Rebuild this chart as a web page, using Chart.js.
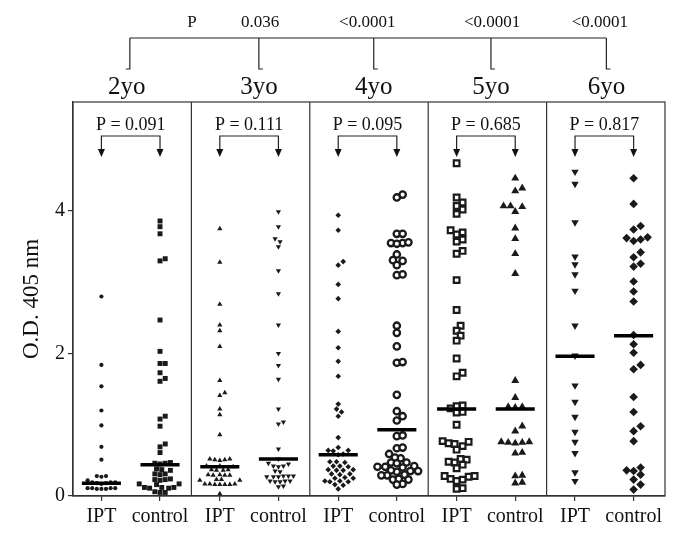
<!DOCTYPE html>
<html><head><meta charset="utf-8">
<script src="https://cdn.jsdelivr.net/npm/chart.js@4.4.0/dist/chart.umd.min.js"></script>
<style>html,body{margin:0;padding:0;background:#fff;}</style>
</head><body>
<canvas id="c" width="685" height="542"></canvas>
<script>
const groups = ['2yo','3yo','4yo','5yo','6yo'];
const arms = ['IPT','control'];
const groupP = ['P','0.036','<0.0001','<0.0001','<0.0001'];
const panelP = ['P = 0.091','P = 0.111','P = 0.095','P = 0.685','P = 0.817'];
const yTicks = [0,2,4];

const ipt2 = [2.80,1.84,1.54,1.20,0.99,0.69,0.51,0.28,0.27,0.28,0.22,0.19,0.19,0.18,0.18,0.19,0.17,0.11,0.10,0.11,0.10,0.11,0.10,0.11];
const control2 = [3.86,3.78,3.68,3.33,3.30,2.47,2.03,1.86,1.86,1.73,1.65,1.61,1.12,1.08,0.98,0.73,0.69,0.61,0.47,0.46,0.45,0.46,0.38,0.37,0.36,0.31,0.30,0.31,0.23,0.22,0.24,0.23,0.17,0.16,0.17,0.12,0.11,0.12,0.11,0.12,0.05,0.05,0.06];
const ipt3 = [3.75,3.28,2.69,2.40,2.32,2.10,1.62,1.45,1.41,1.22,1.14,0.86,0.51,0.52,0.50,0.52,0.51,0.42,0.41,0.42,0.36,0.37,0.36,0.37,0.29,0.30,0.29,0.30,0.29,0.22,0.23,0.22,0.23,0.16,0.17,0.16,0.17,0.16,0.17,0.16,0.03];
const control3 = [3.99,3.78,3.61,3.57,3.50,3.16,2.84,2.40,2.00,1.83,1.64,1.22,1.04,1.01,0.66,0.52,0.45,0.46,0.42,0.41,0.42,0.35,0.34,0.28,0.27,0.28,0.27,0.28,0.27,0.21,0.20,0.21,0.20,0.21,0.14,0.13];
const ipt4 = [3.94,3.73,3.29,3.24,2.97,2.77,2.31,2.08,1.89,1.68,1.29,1.22,1.18,1.12,0.82,0.68,0.64,0.63,0.64,0.59,0.58,0.48,0.47,0.48,0.42,0.41,0.42,0.36,0.37,0.36,0.37,0.31,0.30,0.31,0.25,0.26,0.25,0.20,0.21,0.20,0.21,0.15,0.16,0.10];
const control4 = [4.23,4.19,3.68,3.68,3.55,3.55,3.54,3.56,3.39,3.30,3.31,3.24,3.10,3.11,2.39,2.29,2.10,1.87,1.88,1.42,1.19,1.12,1.06,0.84,0.85,0.67,0.68,0.59,0.53,0.54,0.47,0.46,0.47,0.41,0.40,0.41,0.42,0.35,0.34,0.35,0.36,0.29,0.30,0.29,0.23,0.24,0.23,0.17,0.16];
const ipt5 = [4.67,4.19,4.12,4.07,4.02,3.96,3.73,3.70,3.67,3.60,3.57,3.44,3.40,3.03,2.61,2.39,2.32,2.25,2.18,1.93,1.73,1.68,1.27,1.26,1.23,1.18,1.17,1.00,0.77,0.76,0.74,0.73,0.70,0.65,0.52,0.51,0.47,0.48,0.44,0.39,0.28,0.27,0.28,0.24,0.23,0.21,0.11,0.10];
const control5 = [4.46,4.32,4.28,4.07,4.06,4.07,3.99,3.76,3.61,3.40,3.12,1.62,1.38,1.25,1.24,1.25,0.98,0.91,0.75,0.76,0.74,0.75,0.76,0.60,0.61,0.28,0.29,0.18,0.19];
const ipt6 = [4.55,4.38,3.84,3.36,3.25,3.11,2.88,2.39,1.97,1.55,1.32,1.11,0.90,0.76,0.60,0.33,0.21];
const control6 = [4.46,4.10,3.79,3.74,3.63,3.60,3.62,3.58,3.42,3.35,3.26,3.22,3.01,2.87,2.73,2.26,2.13,2.01,1.84,1.78,1.39,1.18,0.98,0.91,0.77,0.40,0.35,0.36,0.30,0.23,0.16,0.09];
const medians = [0.18,0.44,0.41,0.52,0.58,0.93,1.22,1.22,1.96,2.25];

const series = [ipt2,control2,ipt3,control3,ipt4,control4,ipt5,control5,ipt6,control6];
const armPos = [0.48,1.47];
const positions = series.map((s,i)=> 2*Math.floor(i/2) + armPos[i%2]);

const INK = '#1a1a1a';
const styles = [
  {pointStyle:'circle', radius:2.1, rotation:0, bg:INK, bw:0, sep:4.6},
  {pointStyle:'rect', radius:3.5, rotation:0, bg:INK, bw:0, sep:5.2},
  {pointStyle:'triangle', radius:3.0, rotation:0, bg:INK, bw:0, sep:5.0},
  {pointStyle:'triangle', radius:3.0, rotation:180, bg:INK, bw:0, sep:5.0},
  {pointStyle:'rectRot', radius:2.8, rotation:0, bg:INK, bw:0, sep:5.0},
  {pointStyle:'circle', radius:3.2, rotation:0, bg:'#fff', bw:2.3, sep:5.8},
  {pointStyle:'rect', radius:4.0, rotation:0, bg:'#fff', bw:2.2, sep:6.0},
  {pointStyle:'triangle', radius:4.6, rotation:0, bg:INK, bw:0, sep:7.0},
  {pointStyle:'triangle', radius:4.3, rotation:180, bg:INK, bw:0, sep:7.0},
  {pointStyle:'rectRot', radius:4.3, rotation:0, bg:INK, bw:0, sep:7.0}
];

// beeswarm layout (pixel-space collision, approximate scale factors)
const PX_X = 592/10, PX_Y = 394/5.53;
function swarm(vals, d){
  const idx = vals.map((v,i)=>i).sort((a,b)=>vals[a]-vals[b]);
  const placed = []; const off = new Array(vals.length).fill(0);
  const step = d/3;
  idx.forEach(i=>{
    const yp = vals[i]*PX_Y;
    for(let k=0;k<120;k++){
      const cand = (k===0)?0:((k%2===1)?1:-1)*Math.ceil(k/2)*step;
      const ok = placed.every(p=>{const dx=p.x-cand, dy=p.y-yp; return dx*dx+dy*dy >= d*d;});
      if(ok){placed.push({x:cand,y:yp}); off[i]=cand/PX_X; break;}
    }
  });
  return off;
}

const datasets = series.map((vals,i)=>{
  const st = styles[i];
  const off = swarm(vals, st.sep);
  return {
    data: vals.map((v,j)=>({x: positions[i]+off[j], y: v})),
    pointStyle: st.pointStyle, pointRadius: st.radius, pointRotation: st.rotation,
    backgroundColor: st.bg, borderColor: INK, borderWidth: st.bw, showLine:false
  };
});

const SERIF = "'Liberation Serif','Times New Roman',serif";

const deco = {
  id:'deco',
  afterDatasetsDraw(chart){
    const {ctx, chartArea:a, scales:{x,y}} = chart;
    ctx.save();
    ctx.strokeStyle = '#333'; ctx.lineWidth = 1.2;
    ctx.strokeRect(a.left, a.top, a.right-a.left, a.bottom-a.top);
    [2,4,6,8].forEach(v=>{const px=x.getPixelForValue(v);ctx.beginPath();ctx.moveTo(px,a.top);ctx.lineTo(px,a.bottom);ctx.stroke();});
    // medians
    ctx.strokeStyle = '#000'; ctx.lineWidth = 3.5;
    medians.forEach((m,i)=>{const py=y.getPixelForValue(m);ctx.beginPath();ctx.moveTo(x.getPixelForValue(positions[i]-0.33),py);ctx.lineTo(x.getPixelForValue(positions[i]+0.33),py);ctx.stroke();});
    // panel P labels with brackets
    ctx.fillStyle = '#111'; ctx.strokeStyle = '#222'; ctx.lineWidth = 1.2;
    ctx.font = '18px '+SERIF; ctx.textAlign='center'; ctx.textBaseline='middle';
    panelP.forEach((t,g)=>{
      const x1 = x.getPixelForValue(positions[2*g]), x2 = x.getPixelForValue(positions[2*g+1]);
      ctx.fillText(t, (x1+x2)/2, a.top+23);
      const by = a.top+34, ty = a.top+55;
      ctx.beginPath(); ctx.moveTo(x1,ty-7); ctx.lineTo(x1,by); ctx.lineTo(x2,by); ctx.lineTo(x2,ty-7); ctx.stroke();
      [x1,x2].forEach(px=>{ctx.beginPath();ctx.moveTo(px-3.5,ty-8);ctx.lineTo(px+3.5,ty-8);ctx.lineTo(px,ty);ctx.closePath();ctx.fill();});
    });
    // top bracket
    const tickX = [0.96,3.14,5.08,7.06,9.01].map(v=>x.getPixelForValue(v));
    const pX = [2.01,3.16,4.97,7.08,8.90].map(v=>x.getPixelForValue(v));
    ctx.beginPath(); ctx.moveTo(tickX[0],38); ctx.lineTo(tickX[4],38); ctx.stroke();
    tickX.forEach((px,i)=>{ctx.beginPath();ctx.moveTo(px,38);ctx.lineTo(px,69);ctx.lineTo(px+(i===0?-4:4),69);ctx.stroke();});
    ctx.font = '17px '+SERIF;
    groupP.forEach((t,i)=>ctx.fillText(t,pX[i],23));
    ctx.font = '25px '+SERIF;
    groups.forEach((t,i)=>ctx.fillText(t,tickX[i]-(i===0?3:0),87));
    ctx.restore();
  }
};

new Chart(document.getElementById('c'), {
  type:'scatter',
  data:{datasets},
  options:{
    responsive:false, animation:false, devicePixelRatio:1,
    layout:{padding:{top:102,right:20,left:0,bottom:0}},
    plugins:{legend:{display:false}, tooltip:{enabled:false}},
    scales:{
      x:{type:'linear', min:0, max:10,
        afterBuildTicks(s){s.ticks = positions.map(v=>({value:v}));},
        afterFit(s){s.height = 46;},
        border:{display:true,color:'#333',width:1.2},
        grid:{display:true, drawOnChartArea:false, tickLength:5, color:'#333', lineWidth:1.2},
        ticks:{autoSkip:false, maxRotation:0, padding:4, color:'#111', font:{family:SERIF,size:20},
          callback:(v,i)=>arms[i%2]}
      },
      y:{type:'linear', min:0, max:5.53,
        afterBuildTicks(s){s.ticks = yTicks.map(v=>({value:v}));},
        afterFit(s){s.width = 73;},
        border:{display:true,color:'#333',width:1.2},
        grid:{display:true, drawOnChartArea:false, tickLength:5, color:'#333', lineWidth:1.2},
        ticks:{padding:3, color:'#111', font:{family:SERIF,size:20}},
        title:{display:true, text:'O.D. 405 nm', color:'#111', font:{family:SERIF,size:23}, padding:{top:18,bottom:0}}
      }
    }
  },
  plugins:[deco]
});
</script>
</body></html>
